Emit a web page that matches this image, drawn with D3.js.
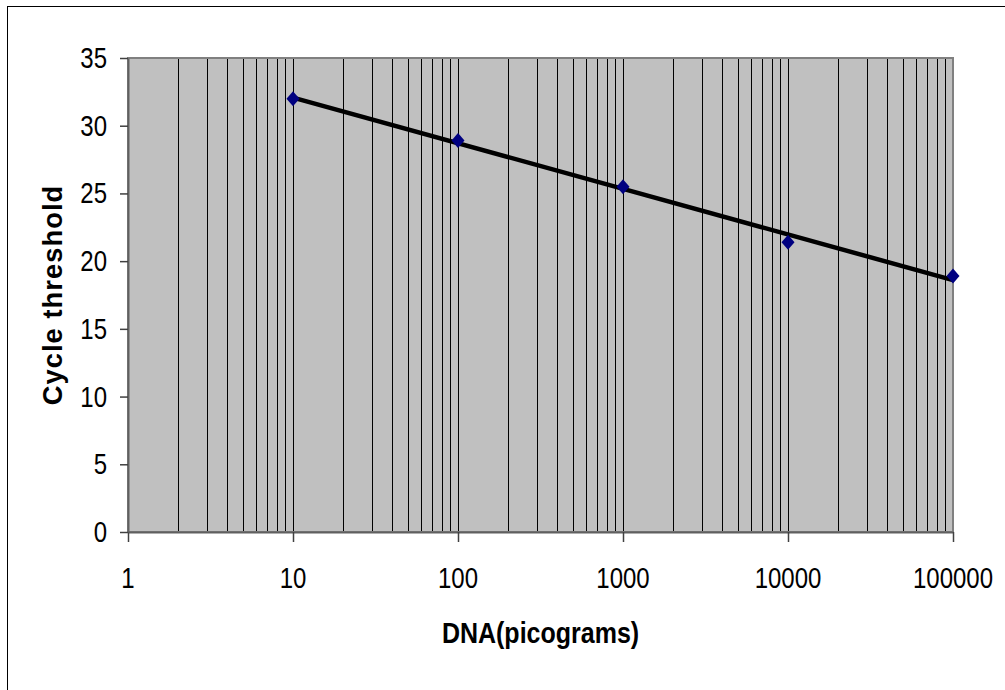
<!DOCTYPE html>
<html>
<head>
<meta charset="utf-8">
<script src="https://cdn.jsdelivr.net/npm/d3@7"></script>
<style>
 html,body{margin:0;padding:0;background:#fff;}
 svg{display:block;font-family:"Liberation Sans",Arial,sans-serif;}
</style>
</head>
<body>
<svg id="chart" width="1005" height="690"></svg>
<script>
// values
const dna=[10,100,1000,10000,100000];
const threshold=[32.0,28.9,25.5,21.4,18.9];
const xTicks=[1,10,100,1000,10000,100000];
const yTicks=[0,5,10,15,20,25,30,35];

const svg=d3.select('#chart');
const plot={left:128,right:953,top:58,bottom:532};
const x=d3.scaleLog().domain([1,100000]).range([plot.left,plot.right]);
const y=d3.scaleLinear().domain([0,35]).range([plot.bottom,plot.top]);

// outer chart frame (runs off the picture on right/bottom)
svg.append('rect').attr('x',7.5).attr('y',6.5).attr('width',1200).attr('height',1000)
 .attr('fill','none').attr('stroke','#000').attr('stroke-width',1);

// plot area
svg.append('rect').attr('x',plot.left).attr('y',plot.top)
 .attr('width',plot.right-plot.left).attr('height',plot.bottom-plot.top)
 .attr('fill','#c0c0c0').attr('stroke','#808080').attr('stroke-width',2);

// vertical log gridlines
const grid=x.ticks().filter(v=>v>1&&v<100000);
svg.append('g').selectAll('line').data(grid).join('line')
 .attr('x1',d=>Math.round(x(d))+.5).attr('x2',d=>Math.round(x(d))+.5)
 .attr('y1',plot.top+1).attr('y2',plot.bottom-1)
 .attr('stroke','#000').attr('stroke-width',1);

// axes (tick marks only, labels drawn separately)
const xAxis=svg.append('g').attr('transform',`translate(0,${plot.bottom})`)
 .call(d3.axisBottom(x).tickValues(xTicks).tickSize(10).tickSizeOuter(0).tickFormat(''));
const yAxis=svg.append('g').attr('transform',`translate(${plot.left},0)`)
 .call(d3.axisLeft(y).tickValues(yTicks).tickSize(8).tickSizeOuter(0).tickFormat(''));
[xAxis,yAxis].forEach(axis=>{
 axis.select('.domain').attr('stroke','#606060').attr('stroke-width',2);
 axis.selectAll('.tick line').attr('stroke','#404040').attr('stroke-width',1.5);
});

// tick labels (stretched vertically like the original)
svg.append('g').selectAll('text').data(xTicks).join('text')
 .attr('transform',d=>`translate(${x(d)},588) scale(1,1.2)`)
 .attr('text-anchor','middle').attr('font-size',24).attr('fill','#000')
 .text(d=>d);
svg.append('g').selectAll('text').data(yTicks).join('text')
 .attr('transform',d=>`translate(107,${y(d)+10}) scale(1,1.2)`)
 .attr('text-anchor','end').attr('font-size',24).attr('fill','#000')
 .text(d=>d);

// axis titles
svg.append('text').attr('transform',`translate(${(plot.left+plot.right)/2},643) scale(1,1.15)`)
 .attr('text-anchor','middle').attr('font-size',25).attr('font-weight','bold')
 .text('DNA(picograms)');
svg.append('text').attr('transform',`translate(62,${(plot.top+plot.bottom)/2}) rotate(-90) scale(1.09,1.1)`)
 .attr('text-anchor','middle').attr('font-size',25).attr('font-weight','bold').attr('letter-spacing',1)
 .text('Cycle threshold');

// logarithmic trendline fitted to the points
const lx=dna.map(Math.log10);
const mx=d3.mean(lx),my=d3.mean(threshold);
const slope=d3.sum(lx,(v,i)=>(v-mx)*(threshold[i]-my))/d3.sum(lx,v=>(v-mx)**2);
const fit=v=>my+slope*(Math.log10(v)-mx);
const line=d3.line().x(d=>x(d)).y(d=>y(fit(d)));
svg.append('path').datum([dna[0],dna[dna.length-1]])
 .attr('d',line).attr('fill','none').attr('stroke','#000').attr('stroke-width',4.5);

// data markers
svg.append('g').selectAll('path').data(dna).join('path')
 .attr('transform',(d,i)=>`translate(${x(d)},${y(threshold[i])})`)
 .attr('d','M0,-7.5L6.5,0L0,7.5L-6.5,0Z').attr('fill','#000080');
</script>
</body>
</html>
